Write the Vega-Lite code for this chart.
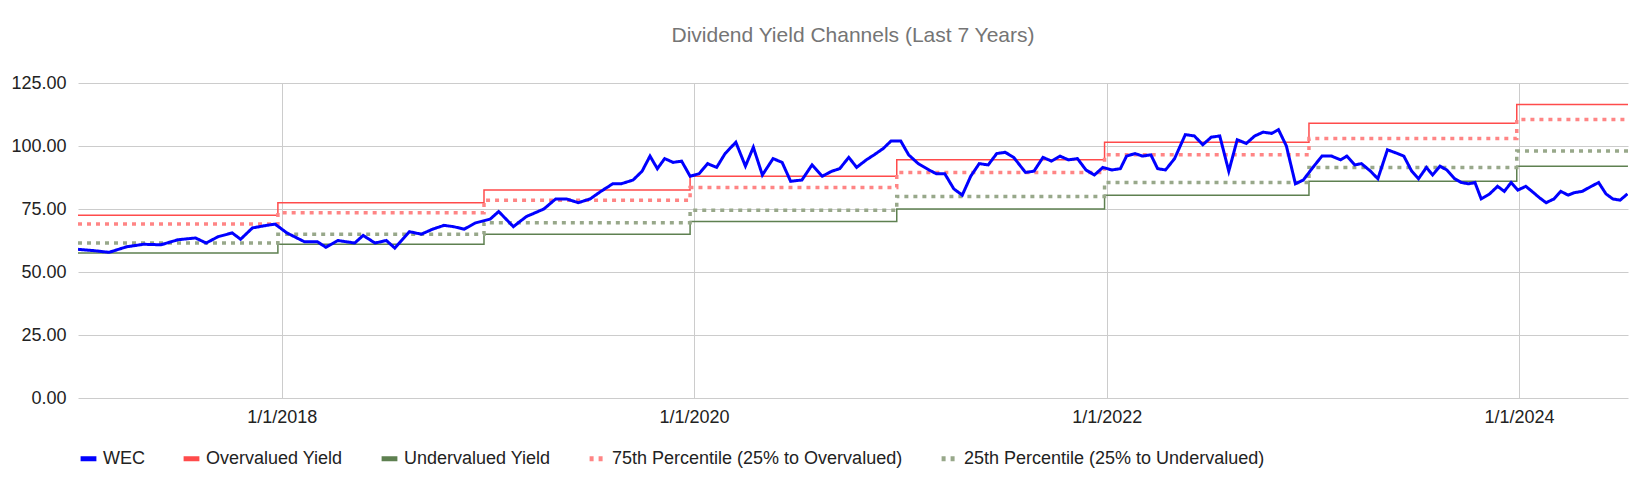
{
  "$schema": "https://vega.github.io/schema/vega-lite/v6.json",
  "autosize": {"type": "fit", "contains": "padding"},
  "width": 1636,
  "height": 494,
  "padding": {"left": 10, "right": 8, "top": 25, "bottom": 25},
  "title": {"text": "Dividend Yield Channels (Last 7 Years)", "font": "Liberation Sans", "fontSize": 21, "fontWeight": "normal", "color": "#757575", "offset": 28},
  "config": {
    "font": "Liberation Sans",
    "view": {"stroke": null},
    "axis": {"labelFont": "Liberation Sans", "labelFontSize": 18, "labelColor": "#222", "title": null, "domain": false, "ticks": false, "gridColor": "#cccccc"}
  },
  "datasets": {
    "wec": [
      {"d":"2017-01-05","s":"WEC","v":59},{"d":"2017-02-01","s":"WEC","v":58.5},{"d":"2017-03-01","s":"WEC","v":57.8},{"d":"2017-04-01","s":"WEC","v":60},
      {"d":"2017-05-01","s":"WEC","v":61},{"d":"2017-06-01","s":"WEC","v":60.8},{"d":"2017-07-01","s":"WEC","v":62.8},{"d":"2017-08-01","s":"WEC","v":63.5},
      {"d":"2017-08-20","s":"WEC","v":61.5},{"d":"2017-09-10","s":"WEC","v":64},{"d":"2017-10-05","s":"WEC","v":65.5},{"d":"2017-10-20","s":"WEC","v":63},
      {"d":"2017-11-10","s":"WEC","v":67.5},{"d":"2017-12-05","s":"WEC","v":68.5},{"d":"2017-12-20","s":"WEC","v":69},
      {"d":"2018-01-10","s":"WEC","v":65.5},{"d":"2018-02-10","s":"WEC","v":62},{"d":"2018-03-05","s":"WEC","v":62},{"d":"2018-03-20","s":"WEC","v":59.8},
      {"d":"2018-04-10","s":"WEC","v":62.5},{"d":"2018-05-10","s":"WEC","v":61.5},{"d":"2018-05-25","s":"WEC","v":64.5},{"d":"2018-06-15","s":"WEC","v":61.5},
      {"d":"2018-07-05","s":"WEC","v":62.5},{"d":"2018-07-20","s":"WEC","v":59.5},{"d":"2018-08-15","s":"WEC","v":66},{"d":"2018-09-05","s":"WEC","v":65},
      {"d":"2018-09-25","s":"WEC","v":67},{"d":"2018-10-15","s":"WEC","v":68.5},{"d":"2018-11-01","s":"WEC","v":68},{"d":"2018-11-20","s":"WEC","v":67},
      {"d":"2018-12-10","s":"WEC","v":69.5},{"d":"2019-01-05","s":"WEC","v":71},{"d":"2019-01-20","s":"WEC","v":74},{"d":"2019-02-15","s":"WEC","v":68},
      {"d":"2019-03-10","s":"WEC","v":72},{"d":"2019-04-10","s":"WEC","v":75},{"d":"2019-05-01","s":"WEC","v":79},{"d":"2019-05-20","s":"WEC","v":79},
      {"d":"2019-06-10","s":"WEC","v":77.5},{"d":"2019-07-01","s":"WEC","v":79},{"d":"2019-07-20","s":"WEC","v":82},{"d":"2019-08-10","s":"WEC","v":85},
      {"d":"2019-08-25","s":"WEC","v":85},{"d":"2019-09-15","s":"WEC","v":86.5},{"d":"2019-10-01","s":"WEC","v":90},{"d":"2019-10-15","s":"WEC","v":96},
      {"d":"2019-10-28","s":"WEC","v":91},{"d":"2019-11-10","s":"WEC","v":95},{"d":"2019-11-25","s":"WEC","v":93.5},{"d":"2019-12-10","s":"WEC","v":94},
      {"d":"2019-12-25","s":"WEC","v":88},{"d":"2020-01-10","s":"WEC","v":89},{"d":"2020-01-25","s":"WEC","v":93},{"d":"2020-02-10","s":"WEC","v":91.5},
      {"d":"2020-02-25","s":"WEC","v":97},{"d":"2020-03-15","s":"WEC","v":101.5},{"d":"2020-04-01","s":"WEC","v":92},{"d":"2020-04-15","s":"WEC","v":99.5},
      {"d":"2020-05-01","s":"WEC","v":88.5},{"d":"2020-05-20","s":"WEC","v":95},{"d":"2020-06-05","s":"WEC","v":93.5},{"d":"2020-06-20","s":"WEC","v":86},
      {"d":"2020-07-10","s":"WEC","v":86.5},{"d":"2020-07-28","s":"WEC","v":92.5},{"d":"2020-08-15","s":"WEC","v":88},{"d":"2020-09-01","s":"WEC","v":90},
      {"d":"2020-09-15","s":"WEC","v":91},{"d":"2020-10-01","s":"WEC","v":95.5},{"d":"2020-10-15","s":"WEC","v":91.5},{"d":"2020-11-01","s":"WEC","v":94.5},
      {"d":"2020-11-15","s":"WEC","v":96.5},{"d":"2020-12-01","s":"WEC","v":99},{"d":"2020-12-15","s":"WEC","v":102},{"d":"2021-01-01","s":"WEC","v":102},
      {"d":"2021-01-15","s":"WEC","v":96.5},{"d":"2021-02-01","s":"WEC","v":93},{"d":"2021-02-20","s":"WEC","v":90.5},{"d":"2021-03-05","s":"WEC","v":89},
      {"d":"2021-03-20","s":"WEC","v":89},{"d":"2021-04-05","s":"WEC","v":83},{"d":"2021-04-20","s":"WEC","v":80.5},{"d":"2021-05-05","s":"WEC","v":88},
      {"d":"2021-05-20","s":"WEC","v":93},{"d":"2021-06-05","s":"WEC","v":92.5},{"d":"2021-06-20","s":"WEC","v":97},{"d":"2021-07-05","s":"WEC","v":97.5},
      {"d":"2021-07-20","s":"WEC","v":95.5},{"d":"2021-08-10","s":"WEC","v":89.5},{"d":"2021-08-25","s":"WEC","v":90},{"d":"2021-09-10","s":"WEC","v":95.5},
      {"d":"2021-09-25","s":"WEC","v":94},{"d":"2021-10-10","s":"WEC","v":96},{"d":"2021-10-25","s":"WEC","v":94.5},{"d":"2021-11-10","s":"WEC","v":95},
      {"d":"2021-11-25","s":"WEC","v":90.5},{"d":"2021-12-10","s":"WEC","v":88.5},{"d":"2021-12-25","s":"WEC","v":91.5},{"d":"2022-01-10","s":"WEC","v":90.5},
      {"d":"2022-01-25","s":"WEC","v":91},{"d":"2022-02-05","s":"WEC","v":96},{"d":"2022-02-20","s":"WEC","v":97},{"d":"2022-03-05","s":"WEC","v":96},
      {"d":"2022-03-20","s":"WEC","v":96.5},{"d":"2022-04-01","s":"WEC","v":91},{"d":"2022-04-15","s":"WEC","v":90.5},{"d":"2022-05-01","s":"WEC","v":95},
      {"d":"2022-05-20","s":"WEC","v":104.5},{"d":"2022-06-05","s":"WEC","v":104},{"d":"2022-06-20","s":"WEC","v":100.5},{"d":"2022-07-05","s":"WEC","v":103.5},
      {"d":"2022-07-20","s":"WEC","v":104},{"d":"2022-08-05","s":"WEC","v":90},{"d":"2022-08-20","s":"WEC","v":102.5},{"d":"2022-09-05","s":"WEC","v":101},
      {"d":"2022-09-20","s":"WEC","v":104},{"d":"2022-10-05","s":"WEC","v":105.5},{"d":"2022-10-20","s":"WEC","v":105},{"d":"2022-11-01","s":"WEC","v":106.5},
      {"d":"2022-11-15","s":"WEC","v":100},{"d":"2022-12-01","s":"WEC","v":85},{"d":"2022-12-15","s":"WEC","v":86.5},{"d":"2023-01-01","s":"WEC","v":91.5},
      {"d":"2023-01-17","s":"WEC","v":96},{"d":"2023-02-03","s":"WEC","v":96},{"d":"2023-02-19","s":"WEC","v":94.5},{"d":"2023-03-02","s":"WEC","v":96},
      {"d":"2023-03-16","s":"WEC","v":92.5},{"d":"2023-03-28","s":"WEC","v":93},{"d":"2023-04-13","s":"WEC","v":90},{"d":"2023-04-26","s":"WEC","v":87},
      {"d":"2023-05-13","s":"WEC","v":98.5},{"d":"2023-05-31","s":"WEC","v":97},{"d":"2023-06-11","s":"WEC","v":96},{"d":"2023-06-25","s":"WEC","v":90},
      {"d":"2023-07-07","s":"WEC","v":87},{"d":"2023-07-21","s":"WEC","v":91.5},{"d":"2023-08-01","s":"WEC","v":88.5},{"d":"2023-08-14","s":"WEC","v":92},
      {"d":"2023-08-26","s":"WEC","v":90.5},{"d":"2023-09-09","s":"WEC","v":87},{"d":"2023-09-21","s":"WEC","v":85.5},{"d":"2023-10-04","s":"WEC","v":85},
      {"d":"2023-10-15","s":"WEC","v":85.5},{"d":"2023-10-26","s":"WEC","v":79},{"d":"2023-11-10","s":"WEC","v":81},{"d":"2023-11-24","s":"WEC","v":84},
      {"d":"2023-12-06","s":"WEC","v":82},{"d":"2023-12-18","s":"WEC","v":85.5},{"d":"2023-12-30","s":"WEC","v":82.5},{"d":"2024-01-13","s":"WEC","v":84},
      {"d":"2024-01-24","s":"WEC","v":82},{"d":"2024-02-06","s":"WEC","v":79.5},{"d":"2024-02-18","s":"WEC","v":77.5},{"d":"2024-03-03","s":"WEC","v":79},
      {"d":"2024-03-15","s":"WEC","v":82},{"d":"2024-03-28","s":"WEC","v":80.5},{"d":"2024-04-08","s":"WEC","v":81.5},{"d":"2024-04-22","s":"WEC","v":82},
      {"d":"2024-05-08","s":"WEC","v":84},{"d":"2024-05-21","s":"WEC","v":85.5},{"d":"2024-06-03","s":"WEC","v":81},{"d":"2024-06-15","s":"WEC","v":79},
      {"d":"2024-06-28","s":"WEC","v":78.5},{"d":"2024-07-11","s":"WEC","v":81}
    ],
    "ch": [
      {"d":"2017-01-05","s":"Overvalued Yield","v":72.5},{"d":"2017-12-25","s":"Overvalued Yield","v":77.5},{"d":"2018-12-25","s":"Overvalued Yield","v":82.5},{"d":"2019-12-25","s":"Overvalued Yield","v":88},{"d":"2020-12-25","s":"Overvalued Yield","v":94.5},{"d":"2021-12-28","s":"Overvalued Yield","v":101.5},{"d":"2022-12-25","s":"Overvalued Yield","v":109},{"d":"2023-12-28","s":"Overvalued Yield","v":116.5},{"d":"2024-07-12","s":"Overvalued Yield","v":116.5},
      {"d":"2017-01-05","s":"Undervalued Yield","v":57.5},{"d":"2017-12-25","s":"Undervalued Yield","v":61},{"d":"2018-12-25","s":"Undervalued Yield","v":65},{"d":"2019-12-25","s":"Undervalued Yield","v":70},{"d":"2020-12-25","s":"Undervalued Yield","v":75},{"d":"2021-12-28","s":"Undervalued Yield","v":80.5},{"d":"2022-12-25","s":"Undervalued Yield","v":86},{"d":"2023-12-28","s":"Undervalued Yield","v":92},{"d":"2024-07-12","s":"Undervalued Yield","v":92},
      {"d":"2017-01-05","s":"75th Percentile (25% to Overvalued)","v":69},{"d":"2017-12-25","s":"75th Percentile (25% to Overvalued)","v":73.5},{"d":"2018-12-25","s":"75th Percentile (25% to Overvalued)","v":78.5},{"d":"2019-12-25","s":"75th Percentile (25% to Overvalued)","v":83.5},{"d":"2020-12-25","s":"75th Percentile (25% to Overvalued)","v":89.5},{"d":"2021-12-28","s":"75th Percentile (25% to Overvalued)","v":96.5},{"d":"2022-12-25","s":"75th Percentile (25% to Overvalued)","v":103},{"d":"2023-12-28","s":"75th Percentile (25% to Overvalued)","v":110.5},{"d":"2024-07-12","s":"75th Percentile (25% to Overvalued)","v":110.5},
      {"d":"2017-01-05","s":"25th Percentile (25% to Undervalued)","v":61.5},{"d":"2017-12-25","s":"25th Percentile (25% to Undervalued)","v":65},{"d":"2018-12-25","s":"25th Percentile (25% to Undervalued)","v":69.5},{"d":"2019-12-25","s":"25th Percentile (25% to Undervalued)","v":74.5},{"d":"2020-12-25","s":"25th Percentile (25% to Undervalued)","v":80},{"d":"2021-12-28","s":"25th Percentile (25% to Undervalued)","v":85.5},{"d":"2022-12-25","s":"25th Percentile (25% to Undervalued)","v":91.5},{"d":"2023-12-28","s":"25th Percentile (25% to Undervalued)","v":98},{"d":"2024-07-12","s":"25th Percentile (25% to Undervalued)","v":98}
    ]
  },
  "encoding": {
    "x": {"field": "d", "type": "temporal", "scale": {"domain": ["2017-01-05", "2024-07-12"]},
      "axis": {"values": ["2018-01-01T00:00:00", "2020-01-01T00:00:00", "2022-01-01T00:00:00", "2024-01-01T00:00:00"], "format": "%-m/%-d/%Y", "labelPadding": 10, "grid": true}},
    "y": {"field": "v", "type": "quantitative", "scale": {"domain": [0, 125]},
      "axis": {"values": [0, 25, 50, 75, 100, 125], "format": ".2f", "labelPadding": 12}},
    "color": {"field": "s", "type": "nominal",
      "scale": {"domain": ["WEC", "Overvalued Yield", "Undervalued Yield", "75th Percentile (25% to Overvalued)", "25th Percentile (25% to Undervalued)"],
        "range": ["#0000ff", "#ff4b4b", "#5e8050", "#ff8585", "#98a88a"]},
      "legend": {"orient": "bottom", "direction": "horizontal", "title": null, "labelFontSize": 18, "labelColor": "#222", "labelLimit": 0, "symbolType": "stroke", "symbolSize": 250, "symbolStrokeWidth": 5, "columnPadding": 28, "offset": 22}},
    "strokeDash": {"field": "s", "type": "nominal",
      "scale": {"domain": ["WEC", "Overvalued Yield", "Undervalued Yield", "75th Percentile (25% to Overvalued)", "25th Percentile (25% to Undervalued)"],
        "range": [[1, 0], [1, 0], [1, 0], [4, 5], [4, 5]]}},
    "strokeWidth": {"condition": {"test": "indexof(datum.s, 'Percentile') >= 0", "value": 3.5}, "value": 1.5}
  },
  "layer": [
    {"data": {"name": "ch"}, "mark": {"type": "line", "interpolate": "step-after", "clip": true}},
    {"data": {"name": "wec"}, "mark": {"type": "line", "clip": true, "strokeWidth": 3}, "encoding": {"strokeWidth": {"value": 3}}}
  ]
}
